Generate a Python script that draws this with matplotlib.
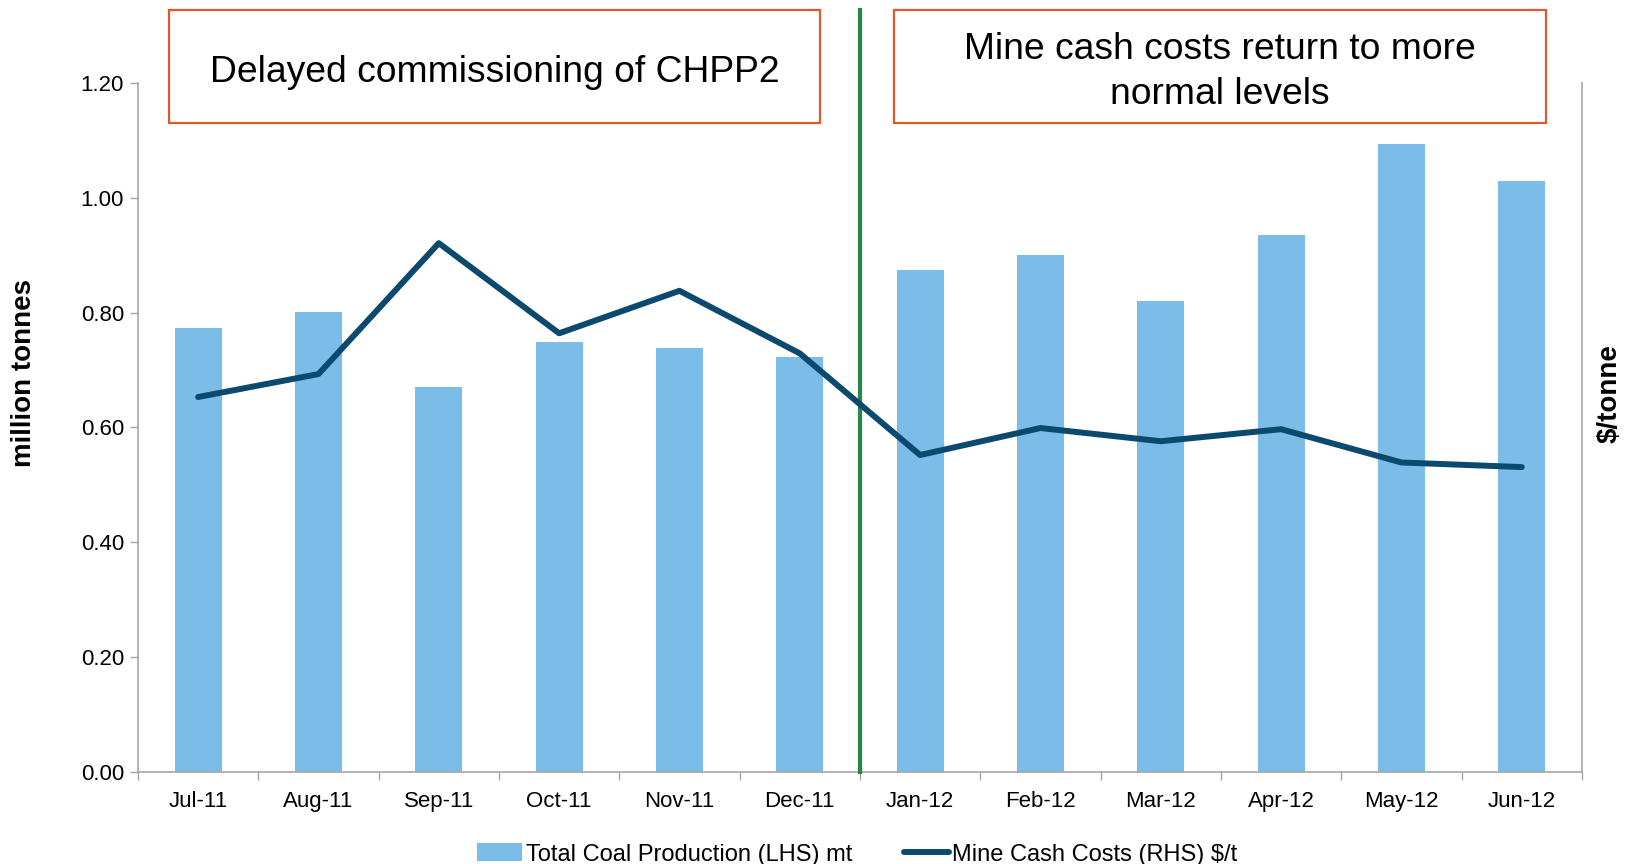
import matplotlib
matplotlib.use("Agg")
import matplotlib.pyplot as plt
from matplotlib.patches import Rectangle, Patch
from matplotlib.lines import Line2D
import numpy as np

plt.rcParams['font.family'] = ['Liberation Sans', 'DejaVu Sans']

months = ["Jul-11", "Aug-11", "Sep-11", "Oct-11", "Nov-11", "Dec-11",
          "Jan-12", "Feb-12", "Mar-12", "Apr-12", "May-12", "Jun-12"]
production_mt = [0.774, 0.801, 0.671, 0.749, 0.738, 0.722,
                 0.874, 0.901, 0.821, 0.935, 1.094, 1.029]
cash_costs = [65.3, 69.3, 92.1, 76.4, 83.8, 72.9,
              55.2, 59.9, 57.6, 59.7, 53.9, 53.1]
left_ticks = [0.0, 0.2, 0.4, 0.6, 0.8, 1.0, 1.2]
box_texts = ["Delayed commissioning of CHPP2",
             "Mine cash costs return to more\nnormal levels"]

bar_color = "#7BBDE8"
line_color = "#0B4A6E"
spine_color = "#A6A6A6"
box_color = "#E0592A"
green = "#23884A"

fig = plt.figure(figsize=(16.27, 8.64), dpi=100)
ax = fig.add_axes([0.0848, 0.1065, 0.8875, 0.7975])
x = np.arange(len(months))
ax.bar(x, production_mt, width=0.39, color=bar_color, zorder=2)
ax.set_xlim(-0.5, len(months) - 0.5)
ax.set_ylim(0, 1.2)
ax.set_yticks(left_ticks)
ax.set_yticklabels([f"{v:.2f}" for v in left_ticks], fontsize=16)
ax.set_xticks(x)
ax.set_xticklabels(months, fontsize=16)
ax.set_xticks(np.arange(-0.5, len(months)), minor=True)
ax.tick_params(axis='x', which='major', length=0, pad=14)
ax.tick_params(axis='x', which='minor', length=6, color=spine_color, width=1)
ax.tick_params(axis='y', length=6, color=spine_color, width=1, pad=4)
for s in ['top', 'right']:
    ax.spines[s].set_visible(False)
for s in ['left', 'bottom']:
    ax.spines[s].set_color(spine_color)
    ax.spines[s].set_linewidth(1.2)

ax2 = ax.twinx()
ax2.plot(x, cash_costs, color=line_color, lw=4.3, solid_capstyle='round', zorder=3)
ax2.set_ylim(0, 120)
ax2.set_yticks([])
for s in ['top', 'left', 'bottom']:
    ax2.spines[s].set_visible(False)
ax2.spines['right'].set_color(spine_color)
ax2.spines['right'].set_linewidth(1.2)

# divider line
ax.plot([5.5, 5.5], [0, 1.106], transform=ax.get_xaxis_transform(),
        color=green, lw=3, clip_on=False, zorder=4)

# annotation boxes
for (x0, w), txt in zip([(0.1039, 0.4001), (0.5495, 0.4007)], box_texts):
    fig.patches.append(Rectangle((x0, 0.8576), w, 0.1308, transform=fig.transFigure,
                                 fill=False, edgecolor=box_color, lw=1.6))
    fig.text(x0 + w / 2, 0.9165, txt, ha='center', va='center', fontsize=26.8,
             linespacing=1.37)

fig.text(0.0145, 0.568, "million tonnes", rotation=90, ha='center', va='center',
         fontsize=20, fontweight='bold')
fig.text(0.9895, 0.545, "$/tonne", rotation=90, ha='center', va='center',
         fontsize=20, fontweight='bold')

handles = [Patch(facecolor=bar_color, edgecolor='none'),
           Line2D([0], [0], color=line_color, lw=4.3, solid_capstyle='round')]
fig.legend(handles, ["Total Coal Production (LHS) mt", "Mine Cash Costs (RHS) $/t"],
           loc='center', bbox_to_anchor=(0.527, 0.011), ncol=2, frameon=False,
           fontsize=17, handlelength=1.9, handletextpad=0.15, columnspacing=2.2,
           handleheight=0.8)

fig.savefig("out.png", dpi=100)
